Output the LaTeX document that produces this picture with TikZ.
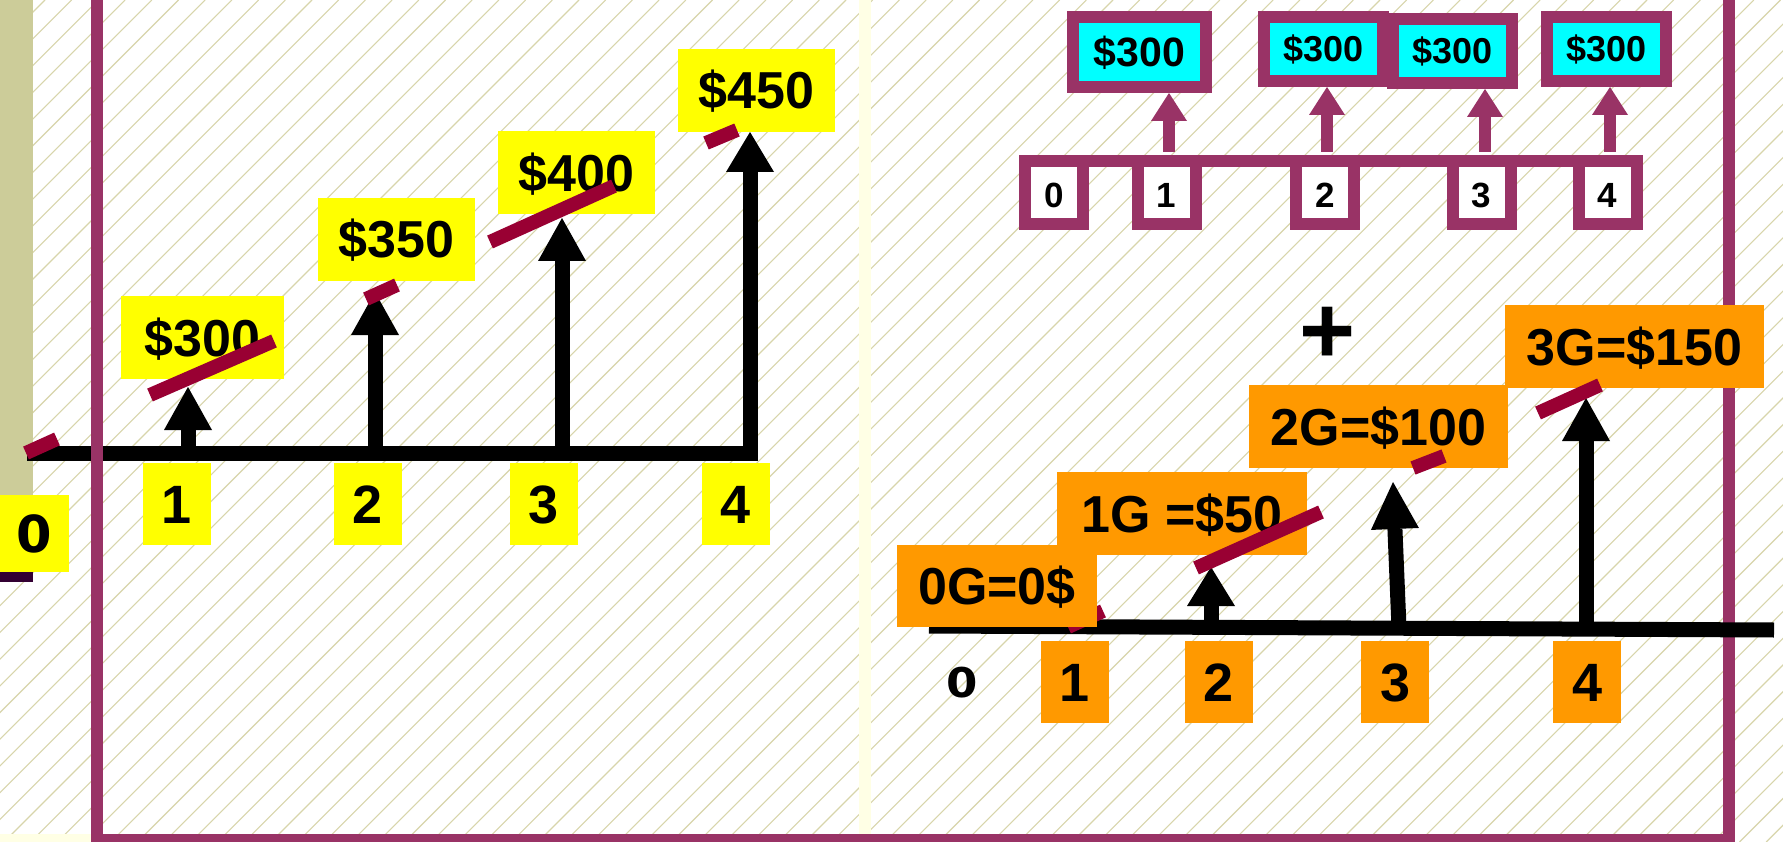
\documentclass[tikz,border=0pt]{standalone}
\usepackage{fontspec}
\usepackage{graphicx}
\setmainfont{Liberation Sans}
\newfontfamily\dvfont{DejaVu Sans}
\usetikzlibrary{arrows.meta}

\definecolor{hatchc}{HTML}{D8D5AB}
\definecolor{framec}{HTML}{993366}
\definecolor{barc}{HTML}{990033}
\definecolor{labyellow}{HTML}{FFFF00}
\definecolor{laborange}{HTML}{FF9900}
\definecolor{labcyan}{HTML}{00FFFF}
\definecolor{stripc}{HTML}{CCCC99}
\definecolor{palec}{HTML}{FFFFE5}
\definecolor{darkc}{HTML}{330033}

% font sizes (1pt = one unit of the drawing)
\newcommand\fsMoney{\bfseries\fontsize{52}{60}\selectfont}
\newcommand\fsNum{\bfseries\fontsize{54}{62}\selectfont}
\newcommand\fsCyanA{\bfseries\fontsize{41}{48}\selectfont}
\newcommand\fsCyanB{\bfseries\fontsize{36}{42}\selectfont}
\newcommand\fsSmall{\bfseries\fontsize{35}{40}\selectfont}
\newcommand\fsZero{\dvfont\bfseries\fontsize{51}{60}\selectfont}
\newcommand\fsZeroB{\dvfont\bfseries\fontsize{41}{48}\selectfont}
\newcommand\fsPlus{\bfseries\fontsize{96}{100}\selectfont}

\begin{document}
\begin{tikzpicture}[x=1pt,y=-1pt,
  hatchline/.style={draw=hatchc, line width=1.1pt},
  axisline/.style={draw=black, line width=15pt},
  blackarrow/.style={draw=black, line width=15pt,
    -{Triangle[width=48pt,length=#1,line width=0pt]}},
  blackarrow/.default=43pt,
  purplearrow/.style={draw=framec, line width=12pt,
    -{Triangle[width=36pt,length=28pt,line width=0pt]}},
  slashbar/.style={draw=barc, line width=14pt},
  ylab/.style={fill=labyellow, inner sep=0pt, font=\fsMoney,
    text height=37pt, text depth=0pt, minimum width=157pt, minimum height=83pt},
  ynum/.style={fill=labyellow, inner sep=0pt, font=\fsNum,
    text height=39pt, text depth=0pt, minimum width=68pt, minimum height=82pt},
  olab/.style={fill=laborange, inner sep=0pt, font=\fsMoney,
    text height=37pt, text depth=0pt, minimum height=83pt},
  onum/.style={fill=laborange, inner sep=0pt, font=\fsNum,
    text height=39pt, text depth=0pt, minimum width=68pt, minimum height=82pt},
  cbox/.style={draw=framec, line width=12pt, fill=labcyan, inner sep=0pt,
    outer sep=0pt, text depth=0pt},
  sbox/.style={draw=framec, line width=12pt, fill=white, inner sep=0pt,
    outer sep=0pt, minimum width=58pt, minimum height=63pt, font=\fsSmall,
    text height=31pt, text depth=0pt},
]
\useasboundingbox (0,0) rectangle (1783,842);
\clip (0,0) rectangle (1783,842);

% background with diagonal hatching
\fill[white] (0,0) rectangle (1783,842);
\foreach \k in {-2,...,97}
  \draw[hatchline] ({45+26.7*\k},0) -- ({45+26.7*\k-842},842);

% side strips
\fill[stripc] (0,0) rectangle (33,572);
\fill[darkc] (0,572) rectangle (33,582);
\fill[palec] (859,0) rectangle (871,842);
\fill[palec] (0,834) rectangle (91,842);

% ---------- left panel: time line ----------
\coordinate (L0) at (27,453);
\coordinate (Lend) at (757.5,453);
\draw[axisline] (L0) -- (Lend);

% frame
\draw[framec, line width=12pt] (97,-10) -- (97,840) -- (1729,840) -- (1729,-10);

% cash-flow arrows
\coordinate (a1) at (188,453);   \coordinate (a1t) at (188,387);
\coordinate (a2) at (375,453);   \coordinate (a2t) at (375,292);
\coordinate (a3) at (562,453);   \coordinate (a3t) at (562,218);
\coordinate (a4) at (750,460.5); \coordinate (a4t) at (750,132);
\draw[blackarrow] (a1) -- (a1t);
\draw[blackarrow] (a2) -- (a2t);
\draw[blackarrow] (a3) -- (a3t);
\draw[blackarrow=40pt] (a4) -- (a4t);

% amounts
\node[ylab, minimum width=163pt] (v1) at (202.5,337.5) {\$300};
\node[ylab] (v2) at (396.5,239.5) {\$350};
\node[ylab] (v3) at (576.5,173) {\$400};
\node[ylab] (v4) at (756.5,90.5) {\$450};

% periods
\node[ynum, font=\fsZero, text height=37pt, minimum width=69pt, minimum height=77pt] (n0) at (34.5,533.5) {0};
\node[ynum] (n1) at (177,504) {1};
\node[ynum] (n2) at (368,504) {2};
\node[ynum] (n3) at (544,504) {3};
\node[ynum] (n4) at (736,504) {4};

% slanted marks
\draw[slashbar] (26,453) -- (57,439);
\draw[slashbar] (150,395) -- (274,341);
\draw[slashbar] (366,299) -- (397,285);
\draw[slashbar] (490,242) -- (614,186);
\draw[slashbar] (706,143) -- (737,130);

% ---------- right panel: uniform series ----------
\coordinate (p1) at (1169,152); \coordinate (p1t) at (1169,93);
\coordinate (p2) at (1327,152); \coordinate (p2t) at (1327,87);
\coordinate (p3) at (1485,152); \coordinate (p3t) at (1485,89);
\coordinate (p4) at (1610,152); \coordinate (p4t) at (1610,87);
\draw[purplearrow] (p1) -- (p1t);
\draw[purplearrow] (p2) -- (p2t);
\draw[purplearrow] (p3) -- (p3t);
\draw[purplearrow] (p4) -- (p4t);

\node[cbox, font=\fsCyanA, text height=29.5pt, minimum width=133pt, minimum height=70pt] (c1) at (1139.5,52) {\$300};
\node[cbox, font=\fsCyanB, text height=26pt, minimum width=119pt, minimum height=64pt] (c2) at (1323.5,49) {\$300};
\node[cbox, font=\fsCyanB, text height=26pt, minimum width=119pt, minimum height=64pt] (c3) at (1452.5,51) {\$300};
\node[cbox, font=\fsCyanB, text height=26pt, minimum width=119pt, minimum height=64pt] (c4) at (1606.5,49) {\$300};

\node[sbox] (s0) at (1054,192.5) {0};
\node[sbox] (s1) at (1166.5,192.5) {1};
\node[sbox] (s2) at (1325,192.5) {2};
\node[sbox] (s3) at (1481.5,192.5) {3};
\node[sbox] (s4) at (1607.5,192.5) {4};
\draw[framec, line width=12pt, line cap=rect] (s0.north west) -- (s4.north east);

% plus sign
\node[font=\fsPlus, anchor=base, inner sep=0pt] (plus) at (1328,363) {+};

% ---------- right panel: gradient series ----------
\coordinate (R0) at (929,626);
\coordinate (Rend) at (1774,630);
\draw[axisline] (R0) -- (Rend);

\coordinate (g2b) at (1211,627.5); \coordinate (g2t) at (1211,567);
\coordinate (g3b) at (1399,628);   \coordinate (g3t) at (1393,482);
\coordinate (g4b) at (1586,629);   \coordinate (g4t) at (1586,398);
\draw[blackarrow=39pt] (g2b) -- (g2t);
\draw[blackarrow=47pt] (g3b) -- (g3t);
\draw[blackarrow] (g4b) -- (g4t);

\draw[slashbar] (1068,627) -- (1103,611);
\node[olab, minimum width=200pt, minimum height=82pt] (g0) at (997,586) {0G=0\$};
\node[olab, minimum width=250pt] (g1) at (1182,513.5) {1G =\$50};
\node[olab, minimum width=259pt] (gg2) at (1378.5,426.5) {2G=\$100};
\node[olab, minimum width=259pt] (gg3) at (1634.5,346.5) {3G=\$150};

\draw[slashbar] (1196,568) -- (1321,512);
\draw[slashbar] (1413,468) -- (1444,456);
\draw[slashbar] (1538,413) -- (1600,385);

\node[font=\fsZeroB, inner sep=0pt, text height=30pt, text depth=0pt] (r0) at (962,682) {\scalebox{1.1}[1]{0}};
\node[onum] (r1) at (1075,682) {1};
\node[onum] (r2) at (1219,682) {2};
\node[onum] (r3) at (1395,682) {3};
\node[onum] (r4) at (1587,682) {4};
\end{tikzpicture}
\end{document}
